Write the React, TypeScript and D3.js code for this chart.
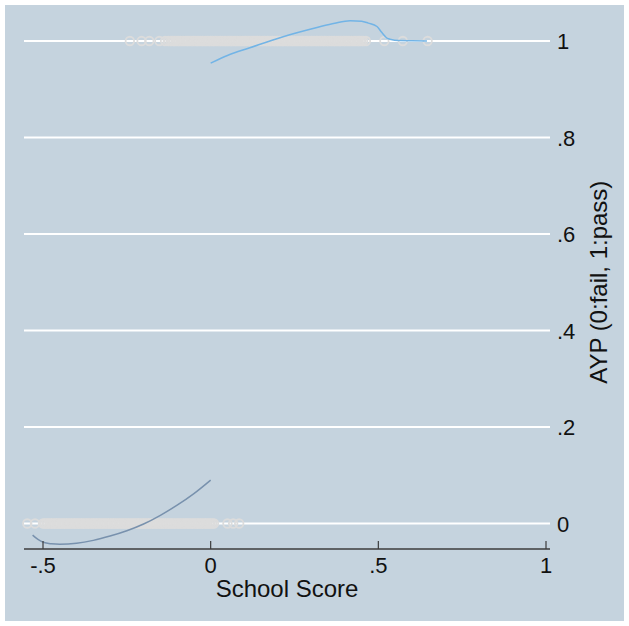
import React from "react";
import * as d3 from "d3";

const xTicks = [-0.5, 0, 0.5, 1];
const xTickLabels = ["-.5", "0", ".5", "1"];
const yTicks = [0, 0.2, 0.4, 0.6, 0.8, 1];
const yTickLabels = ["0", ".2", ".4", ".6", ".8", "1"];

// Observed schools with AYP = 1 (pass)
const passScores = [
  -0.241, -0.206, -0.183, -0.153, -0.136, -0.126,
  -0.12, -0.115, -0.11, -0.105, -0.1, -0.095, -0.09, -0.085, -0.08, -0.075, -0.07, -0.065, -0.06, -0.055,
  -0.05, -0.045, -0.04, -0.035, -0.03, -0.025, -0.02, -0.015, -0.01, -0.005, 0, 0.005, 0.01, 0.015, 0.02,
  0.025, 0.03, 0.035, 0.04, 0.045, 0.05, 0.055, 0.06, 0.065, 0.07, 0.075, 0.08, 0.085, 0.09, 0.095, 0.1,
  0.105, 0.11, 0.115, 0.12, 0.125, 0.13, 0.135, 0.14, 0.145, 0.15, 0.155, 0.16, 0.165, 0.17, 0.175, 0.18,
  0.185, 0.19, 0.195, 0.2, 0.205, 0.21, 0.215, 0.22, 0.225, 0.23, 0.235, 0.24, 0.245, 0.25, 0.255, 0.26,
  0.265, 0.27, 0.275, 0.28, 0.285, 0.29, 0.295, 0.3, 0.305, 0.31, 0.315, 0.32, 0.325, 0.33, 0.335, 0.34,
  0.345, 0.35, 0.355, 0.36, 0.365, 0.37, 0.375, 0.38, 0.385, 0.39, 0.395, 0.4, 0.405, 0.41, 0.415, 0.42,
  0.425, 0.43, 0.435, 0.44, 0.445, 0.45, 0.455, 0.463,
  0.518, 0.573, 0.647,
];

// Observed schools with AYP = 0 (fail)
const failScores = [
  -0.547, -0.524,
  -0.5, -0.495, -0.49, -0.485, -0.48, -0.475, -0.47, -0.465, -0.46, -0.455, -0.45, -0.445, -0.44, -0.435,
  -0.43, -0.425, -0.42, -0.415, -0.41, -0.405, -0.4, -0.395, -0.39, -0.385, -0.38, -0.375, -0.37, -0.365,
  -0.36, -0.355, -0.35, -0.345, -0.34, -0.335, -0.33, -0.325, -0.32, -0.315, -0.31, -0.305, -0.3, -0.295,
  -0.29, -0.285, -0.28, -0.275, -0.27, -0.265, -0.26, -0.255, -0.25, -0.245, -0.24, -0.235, -0.23, -0.225,
  -0.22, -0.215, -0.21, -0.205, -0.2, -0.195, -0.19, -0.185, -0.18, -0.175, -0.17, -0.165, -0.16, -0.155,
  -0.15, -0.145, -0.14, -0.135, -0.13, -0.125, -0.12, -0.115, -0.11, -0.105, -0.1, -0.095, -0.09, -0.085,
  -0.08, -0.075, -0.07, -0.065, -0.06, -0.055, -0.05, -0.045, -0.04, -0.035, -0.03, -0.025, -0.02, -0.015,
  -0.01, -0.005, 0, 0.005, 0.01,
  0.05, 0.067, 0.085,
];

// Fitted curve below the cutoff
const fitLeftX = [-0.531, -0.515, -0.499, -0.475, -0.45, -0.4, -0.35, -0.3, -0.25, -0.2, -0.15, -0.1, -0.05, 0.0];
const fitLeftY = [-0.024, -0.033, -0.039, -0.042, -0.043, -0.041, -0.035, -0.026, -0.015, -0.001, 0.017, 0.038, 0.062, 0.09];

// Fitted curve above the cutoff
const fitRightX = [0.0, 0.05, 0.117, 0.216, 0.317, 0.37, 0.416, 0.45, 0.47, 0.496, 0.51, 0.526, 0.538, 0.56, 0.6, 0.645];
const fitRightY = [0.954, 0.97, 0.986, 1.009, 1.028, 1.037, 1.042, 1.041, 1.037, 1.03, 1.018, 1.006, 1.003, 1.0008, 1.0003, 1.0];

const W = 629;
const H = 626;
const plotLeft = 24;
const plotRight = 550;
const axisY = 549;

export default function App() {
  const x = d3.scaleLinear().domain([-0.5, 1]).range([43, 546]);
  const y = d3.scaleLinear().domain([0, 1]).range([523.5, 41]);

  const line = d3
    .line<[number, number]>()
    .x((d) => x(d[0]))
    .y((d) => y(d[1]))
    .curve(d3.curveMonotoneX);

  const leftPts = fitLeftX.map((v, i) => [v, fitLeftY[i]] as [number, number]);
  const rightPts = fitRightX.map((v, i) => [v, fitRightY[i]] as [number, number]);

  const font = "'Liberation Sans', Arial, Helvetica, sans-serif";
  const markerColor = "#dcdcdc";

  return (
    <svg
      width={W}
      height={H}
      style={{ position: "absolute", left: 0, top: 0 }}
      fontFamily={font}
    >
      <rect x={0} y={0} width={W} height={H} fill="#ffffff" />
      <rect x={5} y={5} width={619} height={616} fill="#c5d3de" />

      {/* gridlines */}
      {yTicks.map((t) => (
        <line key={"g" + t} x1={plotLeft} x2={plotRight} y1={y(t)} y2={y(t)} stroke="#ffffff" strokeWidth={2} />
      ))}

      {/* markers */}
      {passScores.map((v, i) => (
        <circle key={"p" + i} cx={x(v)} cy={y(1)} r={4.25} fill="none" stroke={markerColor} strokeWidth={1.8} />
      ))}
      {failScores.map((v, i) => (
        <circle key={"f" + i} cx={x(v)} cy={y(0)} r={4.25} fill="none" stroke={markerColor} strokeWidth={1.8} />
      ))}

      {/* fitted lines */}
      <path d={line(leftPts) || ""} fill="none" stroke="#7891ad" strokeWidth={1.5} />
      <path d={line(rightPts) || ""} fill="none" stroke="#72b4e6" strokeWidth={1.5} />

      {/* x axis */}
      <line x1={plotLeft} x2={plotRight} y1={axisY} y2={axisY} stroke="#3c3c3c" strokeWidth={1.5} />
      {xTicks.map((t, i) => (
        <g key={"xt" + t}>
          <line x1={x(t)} x2={x(t)} y1={axisY} y2={axisY - 8} stroke="#3c3c3c" strokeWidth={1.2} />
          <text x={x(t)} y={573} textAnchor="middle" fontSize={22} fill="#111">
            {xTickLabels[i]}
          </text>
        </g>
      ))}
      <text x={287} y={597} textAnchor="middle" fontSize={24} fill="#111">
        School Score
      </text>

      {/* y axis labels (right) */}
      {yTicks.map((t, i) => (
        <text key={"yt" + t} x={557} y={y(t) + 8} textAnchor="start" fontSize={22} fill="#111">
          {yTickLabels[i]}
        </text>
      ))}
      <text
        transform={`translate(607, ${(y(0) + y(1)) / 2}) rotate(-90)`}
        textAnchor="middle"
        fontSize={24}
        fill="#111"
      >
        AYP (0:fail, 1:pass)
      </text>
    </svg>
  );
}
